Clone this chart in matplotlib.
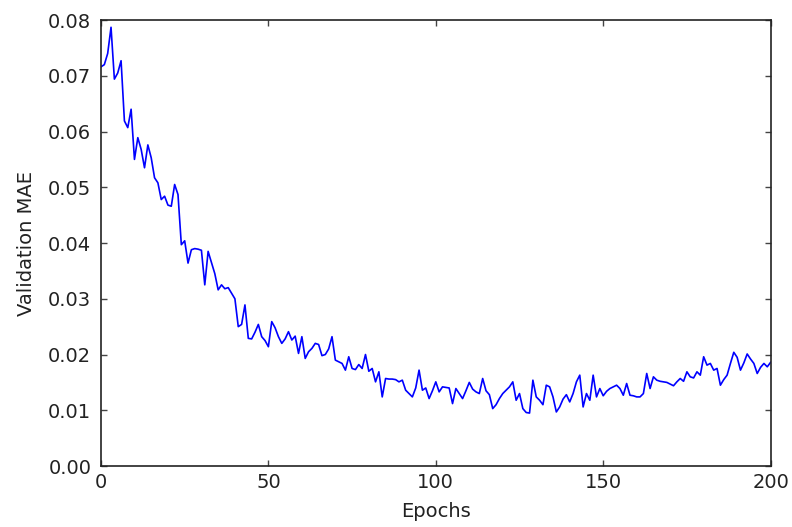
import matplotlib
matplotlib.use('Agg')
import matplotlib.pyplot as plt
import numpy as np

# validation MAE per epoch
epochs = list(range(0, 201))
val_mae = [
    0.0716, 0.0720, 0.0740, 0.0787, 0.0694, 0.0705, 0.0727, 0.0619, 0.0607, 0.0640,
    0.0550, 0.0589, 0.0568, 0.0535, 0.0576, 0.0553, 0.0517, 0.0508, 0.0478, 0.0484,
    0.0468, 0.0466, 0.0505, 0.0487, 0.0397, 0.0404, 0.0364, 0.0388, 0.0390, 0.0389,
    0.0387, 0.0325, 0.0385, 0.0365, 0.0345, 0.0316, 0.0325, 0.0318, 0.0320, 0.0310,
    0.0300, 0.0250, 0.0254, 0.0289, 0.0229, 0.0228, 0.0240, 0.0254, 0.0232, 0.0225,
    0.0214, 0.0259, 0.0248, 0.0232, 0.0220, 0.0228, 0.0241, 0.0226, 0.0233, 0.0202,
    0.0232, 0.0193, 0.0205, 0.0211, 0.0220, 0.0218, 0.0198, 0.0200, 0.0210, 0.0232,
    0.0190, 0.0187, 0.0184, 0.0172, 0.0196, 0.0175, 0.0173, 0.0182, 0.0175, 0.0200,
    0.0170, 0.0175, 0.0151, 0.0169, 0.0124, 0.0157, 0.0156, 0.0156, 0.0155, 0.0151,
    0.0154, 0.0136, 0.0130, 0.0124, 0.0140, 0.0172, 0.0136, 0.0140, 0.0121, 0.0135,
    0.0151, 0.0133, 0.0142, 0.0141, 0.0140, 0.0112, 0.0139, 0.0130, 0.0121, 0.0135,
    0.0150, 0.0138, 0.0133, 0.0130, 0.0157, 0.0135, 0.0128, 0.0103, 0.0110, 0.0121,
    0.0130, 0.0136, 0.0142, 0.0151, 0.0118, 0.0130, 0.0103, 0.0096, 0.0095, 0.0154,
    0.0124, 0.0118, 0.0110, 0.0145, 0.0142, 0.0124, 0.0097, 0.0106, 0.0120, 0.0128,
    0.0115, 0.0130, 0.0151, 0.0163, 0.0106, 0.0130, 0.0118, 0.0163, 0.0124, 0.0139,
    0.0126, 0.0134, 0.0139, 0.0142, 0.0145, 0.0139, 0.0127, 0.0148, 0.0127, 0.0126,
    0.0124, 0.0124, 0.0130, 0.0166, 0.0139, 0.0160, 0.0154, 0.0152, 0.0151, 0.0150,
    0.0147, 0.0144, 0.0151, 0.0157, 0.0152, 0.0169, 0.0160, 0.0158, 0.0169, 0.0163,
    0.0196, 0.0181, 0.0184, 0.0172, 0.0175, 0.0145, 0.0155, 0.0163, 0.0184, 0.0204,
    0.0195, 0.0172, 0.0185, 0.0201, 0.0192, 0.0184, 0.0166, 0.0177, 0.0184, 0.0178,
    0.0186,
]
x_ticks = [0, 50, 100, 150, 200]
y_ticks = [0.00, 0.01, 0.02, 0.03, 0.04, 0.05, 0.06, 0.07, 0.08]

fig = plt.figure(figsize=(7.92, 5.27), dpi=100)
ax = fig.add_axes([0.1275, 0.1157, 0.8455, 0.8463])

ax.plot(epochs, val_mae, color='#0000ff', linewidth=1.2)

ax.set_xlim(0, 200)
ax.set_ylim(0, 0.08)
ax.set_xticks(x_ticks)
ax.set_yticks(y_ticks)
ax.set_yticklabels(['%.2f' % v for v in y_ticks])

# classic look: inward ticks on every side
ax.tick_params(direction='in', length=4, width=1, top=True, right=True,
               labelsize=14, colors='#444444', labelcolor='#222222')
ax.tick_params(axis='y', pad=7)
ax.tick_params(axis='x', pad=5)
for s in ax.spines.values():
    s.set_linewidth(1.2)
    s.set_color('#222222')

ax.set_xlabel('Epochs', fontsize=14, color='#222222', labelpad=7)
ax.set_ylabel('Validation MAE', fontsize=14, color='#222222', labelpad=9)

plt.savefig('out.png', dpi=100)
